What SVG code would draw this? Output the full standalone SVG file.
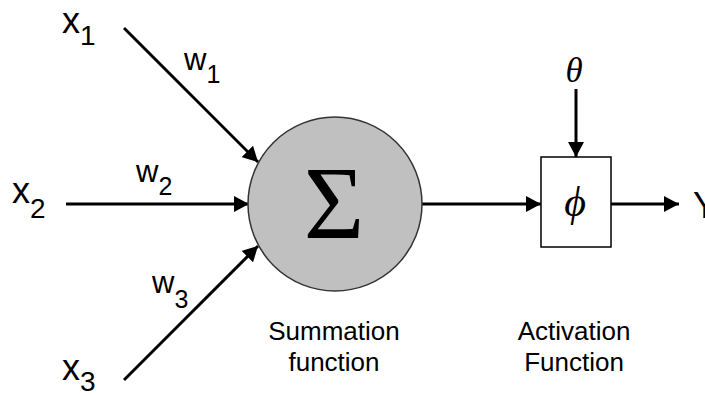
<svg xmlns="http://www.w3.org/2000/svg" width="705" height="396" viewBox="0 0 705 396">
  <style>
    .lbl { font-family: "Liberation Sans", Arial, sans-serif; fill: #000; }
    .sym { font-family: "Liberation Serif", "DejaVu Serif", serif; fill: #000; }
    .wire { stroke: #000; stroke-width: 3; fill: none; marker-end: url(#head); }
  </style>
  <defs>
    <marker id="head" markerUnits="userSpaceOnUse" markerWidth="16" markerHeight="16" refX="15" refY="8" orient="auto">
      <path d="M0,0 L15,8 L0,16 z" fill="#000"/>
    </marker>
  </defs>
  <rect width="705" height="396" fill="#fff"/>

  <!-- connectors -->
  <g id="connectors">
    <line class="wire" x1="124" y1="28" x2="258" y2="162"/>
    <line class="wire" x1="66" y1="204" x2="249" y2="204"/>
    <line class="wire" x1="124" y1="380" x2="258" y2="246"/>
    <line class="wire" x1="421" y1="204" x2="541" y2="204"/>
    <line class="wire" x1="576" y1="89" x2="576" y2="157"/>
    <line class="wire" x1="611" y1="204" x2="679" y2="204"/>
  </g>

  <!-- inputs -->
  <g id="input-x1">
    <text class="lbl" x="62" y="33" font-size="36">x<tspan font-size="28" dy="12">1</tspan></text>
  </g>
  <g id="input-x2">
    <text class="lbl" x="12" y="203" font-size="36">x<tspan font-size="28" dy="15">2</tspan></text>
  </g>
  <g id="input-x3">
    <text class="lbl" x="62" y="380" font-size="36">x<tspan font-size="28" dy="11">3</tspan></text>
  </g>

  <!-- weights -->
  <g id="weights">
    <text class="lbl" x="184" y="70" font-size="31">w<tspan font-size="25" dy="13">1</tspan></text>
    <text class="lbl" x="136" y="182" font-size="31">w<tspan font-size="25" dy="13">2</tspan></text>
    <text class="lbl" x="152" y="293" font-size="31">w<tspan font-size="25" dy="15">3</tspan></text>
  </g>

  <!-- summation node -->
  <g id="summation">
    <circle cx="335" cy="204" r="87" fill="#c0c0c0" stroke="#333" stroke-width="1.5"/>
    <text class="sym" x="334" y="238" font-size="104" text-anchor="middle">Σ</text>
    <text class="lbl" x="334" y="340" font-size="26" text-anchor="middle">Summation</text>
    <text class="lbl" x="334" y="371" font-size="26" text-anchor="middle">function</text>
  </g>

  <!-- activation node -->
  <g id="activation">
    <rect x="541" y="157" width="70" height="90" fill="#fff" stroke="#000" stroke-width="1.5"/>
    <text class="sym" x="575" y="216" font-size="42" font-style="italic" text-anchor="middle">ϕ</text>
    <text class="lbl" x="574" y="340" font-size="26" text-anchor="middle">Activation</text>
    <text class="lbl" x="574" y="371" font-size="26" text-anchor="middle">Function</text>
  </g>

  <!-- threshold -->
  <g id="theta">
    <text class="sym" x="574" y="82" font-size="35" font-style="italic" text-anchor="middle">θ</text>
  </g>

  <!-- output -->
  <g id="output-y">
    <text class="lbl" x="693" y="218" font-size="36">Y</text>
  </g>
</svg>
